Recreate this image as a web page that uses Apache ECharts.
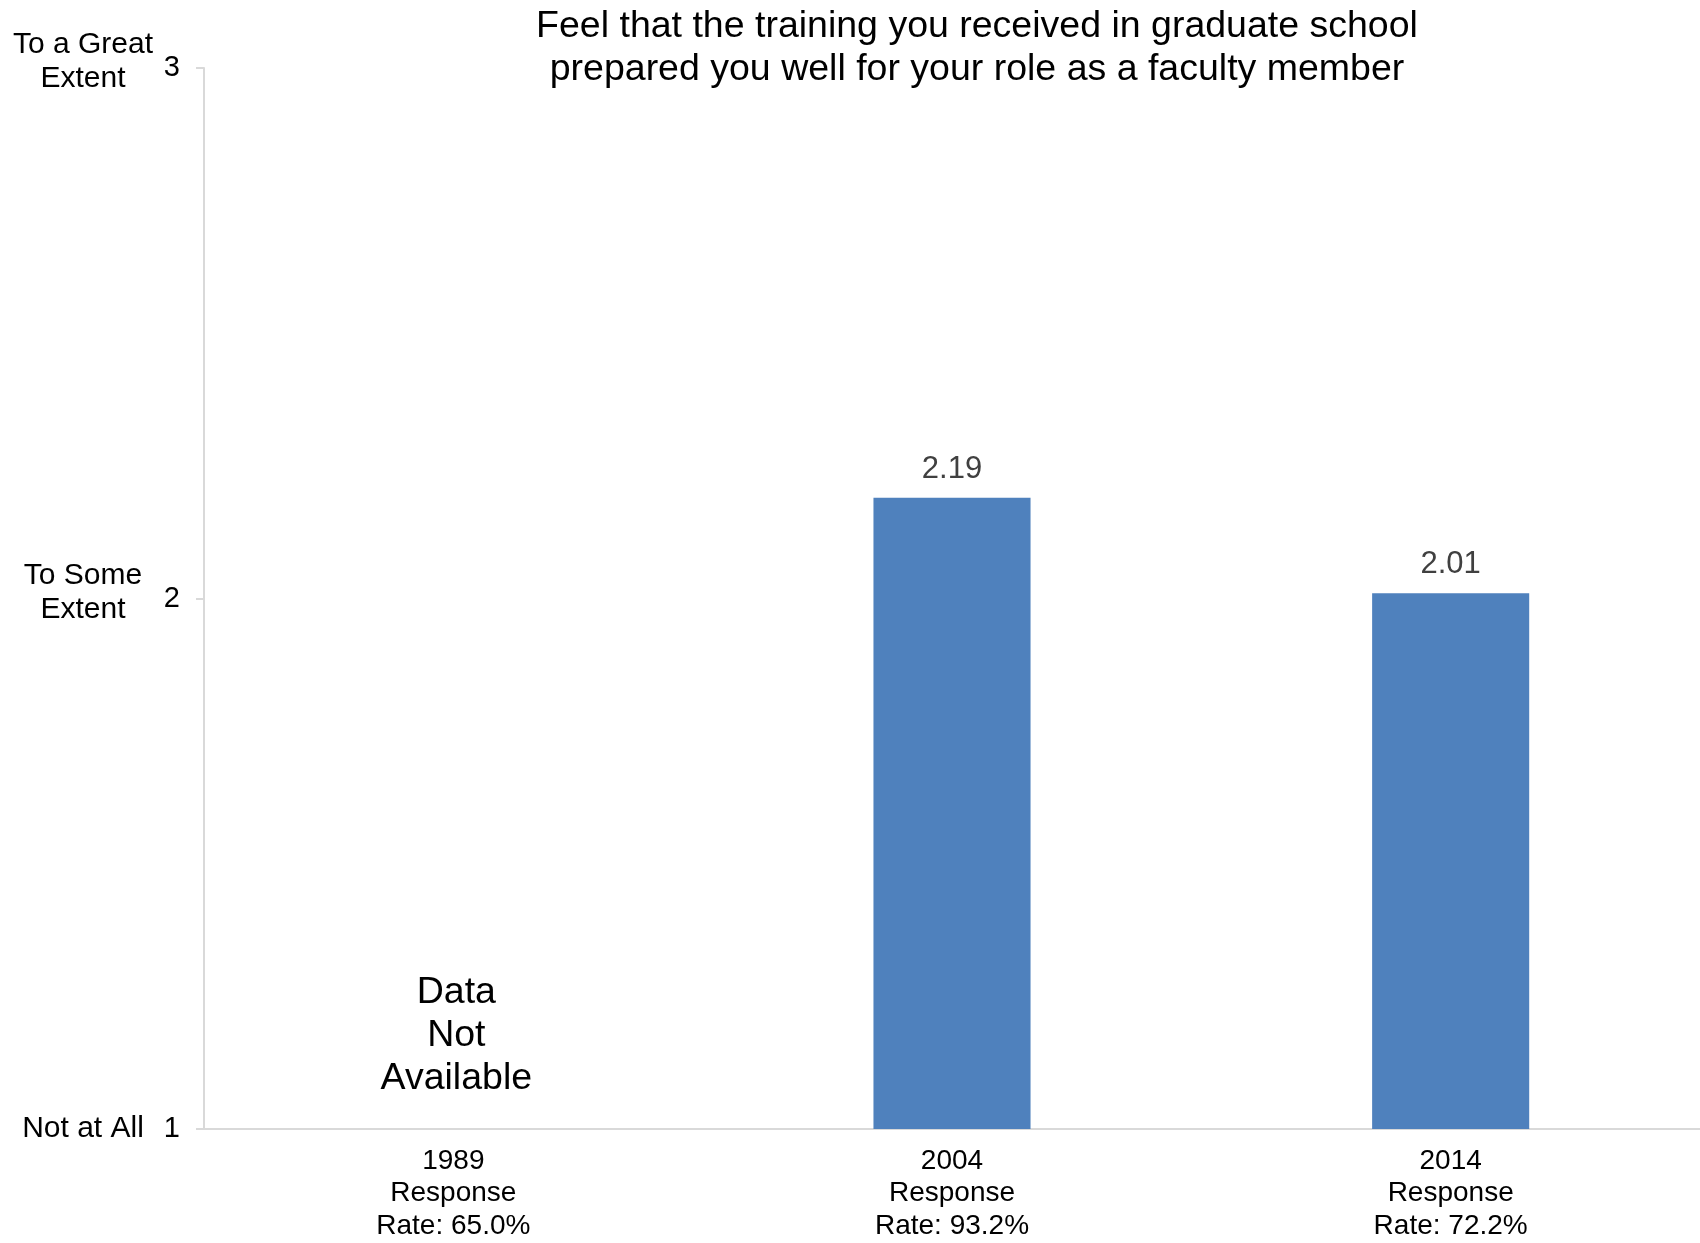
<!DOCTYPE html>
<html>
<head>
<meta charset="utf-8">
<script src="https://cdn.jsdelivr.net/npm/echarts@6/dist/echarts.min.js"></script>
<style>
  html, body { margin: 0; padding: 0; background: #fff; }
  #chart { width: 1700px; height: 1243px; }
</style>
</head>
<body>
<div id="chart"></div>
<script>
// ==============================================================
// Graduate school training chart
// ==============================================================
var years = ['1989', '2004', '2014'];
var responseRates = ['65.0%', '93.2%', '72.2%'];
var scores = [null, 2.19, 2.01];
var scaleTicks = [1, 2, 3];
var scaleNames = ['Not at All', 'To Some\nExtent', 'To a Great\nExtent'];
var missingYear = '1989';
var missingText = 'Data\nNot\nAvailable';

var categories = years.map(function (y, i) {
    return y + '\nResponse\nRate: ' + responseRates[i];
});

var font = 'Liberation Sans, Arial, sans-serif';

var dom = document.getElementById('chart');
var myChart = echarts.init(dom);
var option = {
    animation: false,
    backgroundColor: '#fff',
    title: {
        text: 'Feel that the training you received in graduate school\nprepared you well for your role as a faculty member',
        left: 972,
        top: 0,
        textAlign: 'center',
        textStyle: {
            fontFamily: font,
            fontSize: 37.5,
            fontWeight: 'normal',
            color: '#000',
            lineHeight: 43
        }
    },
    grid: {
        left: 204,
        right: 0,
        top: 68,
        bottom: 114
    },
    xAxis: {
        type: 'category',
        data: categories,
        axisLine: { lineStyle: { color: '#d9d9d9', width: 2 } },
        axisTick: { show: false },
        axisLabel: {
            margin: 16,
            fontFamily: font,
            fontSize: 28,
            lineHeight: 32.5,
            color: '#000',
            interval: 0
        }
    },
    yAxis: [
        {
            type: 'value',
            min: 1,
            max: 3,
            interval: 1,
            splitLine: { show: false },
            axisLine: { show: true, lineStyle: { color: '#d9d9d9', width: 2 } },
            axisTick: { show: true, length: 8, lineStyle: { color: '#d9d9d9', width: 2 } },
            axisLabel: {
                margin: 24,
                fontFamily: font,
                fontSize: 29,
                color: '#000'
            }
        },
        {
            type: 'value',
            position: 'left',
            min: 1,
            max: 3,
            interval: 1,
            splitLine: { show: false },
            axisLine: { show: false },
            axisTick: { show: false },
            axisLabel: {
                margin: 121,
                align: 'center',
                color: '#000',
                formatter: function (v) {
                    var name = scaleNames[scaleTicks.indexOf(v)];
                    if (!name) return '';
                    var lines = name.split('\n');
                    if (lines.length === 1) return '{a|' + name + '}';
                    return lines.map(function (l) { return '{a|' + l + '}'; }).join('\n') + '\n{s|}';
                },
                rich: {
                    a: { fontFamily: font, fontSize: 30, lineHeight: 34, color: '#000', align: 'center' },
                    s: { fontSize: 1, lineHeight: 12 }
                }
            }
        }
    ],
    series: [
        {
            name: 'Score',
            type: 'bar',
            data: scores,
            barWidth: '31.5%',
            itemStyle: { color: '#4f81bd' },
            label: {
                show: true,
                position: 'top',
                distance: 13,
                fontFamily: font,
                fontSize: 31,
                color: '#404040',
                formatter: function (p) { return p.value.toFixed(2); }
            }
        },
        {
            name: 'Missing',
            type: 'scatter',
            data: [[years.indexOf(missingYear), 1]],
            symbolSize: 0,
            itemStyle: { color: '#000', opacity: 1 },
            label: {
                show: true,
                position: 'top',
                distance: 29,
                offset: [3, 0],
                fontFamily: font,
                fontSize: 37.5,
                lineHeight: 43,
                color: '#000',
                align: 'center',
                formatter: missingText
            }
        }
    ]
};

myChart.setOption(option, true);
</script>
</body>
</html>
